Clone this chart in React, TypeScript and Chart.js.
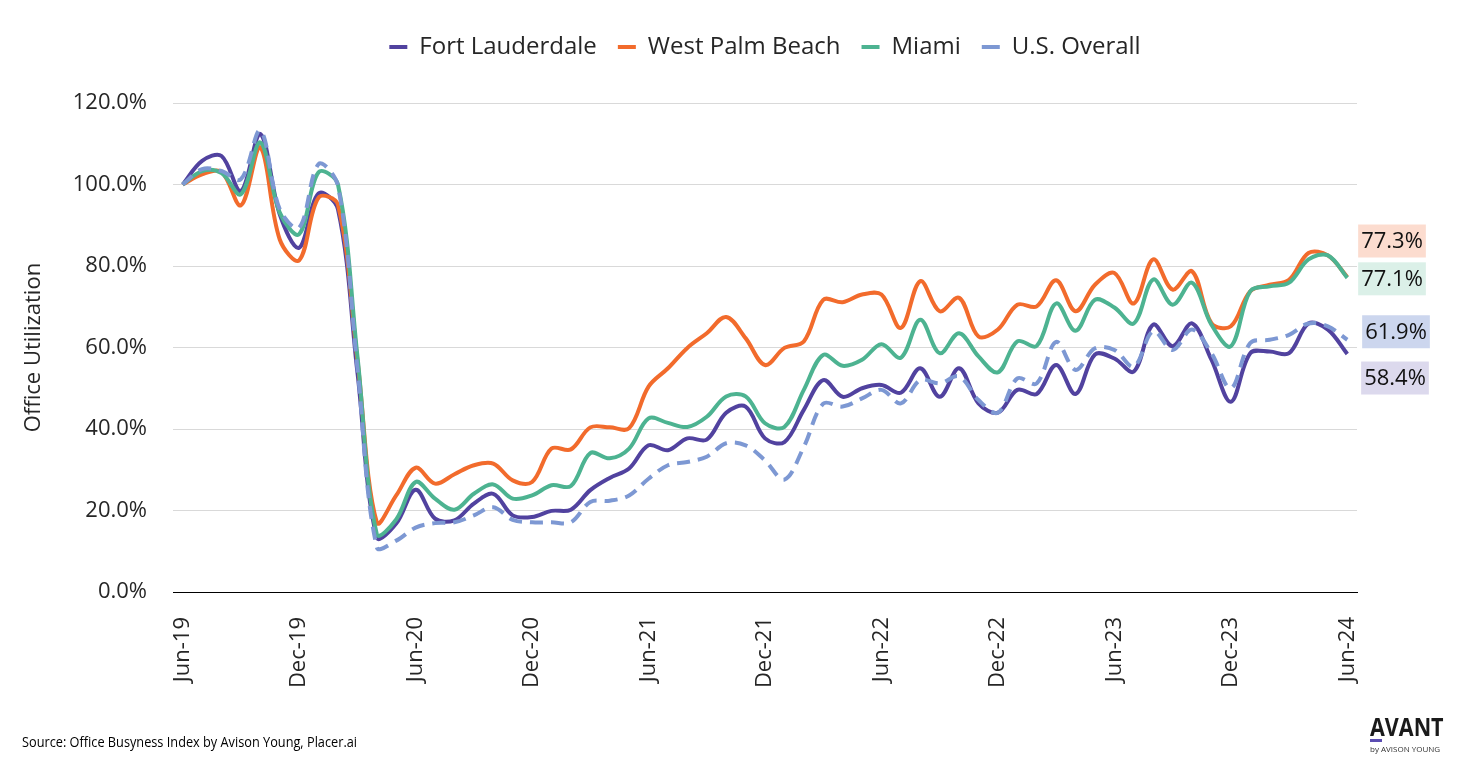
import React, { useEffect, useRef } from 'react';
import { Chart, registerables } from 'chart.js';

Chart.register(...registerables);

const months = [
  'Jun-19', 'Jul-19', 'Aug-19', 'Sep-19', 'Oct-19', 'Nov-19', 'Dec-19',
  'Jan-20', 'Feb-20', 'Mar-20', 'Apr-20', 'May-20', 'Jun-20', 'Jul-20', 'Aug-20', 'Sep-20', 'Oct-20', 'Nov-20', 'Dec-20',
  'Jan-21', 'Feb-21', 'Mar-21', 'Apr-21', 'May-21', 'Jun-21', 'Jul-21', 'Aug-21', 'Sep-21', 'Oct-21', 'Nov-21', 'Dec-21',
  'Jan-22', 'Feb-22', 'Mar-22', 'Apr-22', 'May-22', 'Jun-22', 'Jul-22', 'Aug-22', 'Sep-22', 'Oct-22', 'Nov-22', 'Dec-22',
  'Jan-23', 'Feb-23', 'Mar-23', 'Apr-23', 'May-23', 'Jun-23', 'Jul-23', 'Aug-23', 'Sep-23', 'Oct-23', 'Nov-23', 'Dec-23',
  'Jan-24', 'Feb-24', 'Mar-24', 'Apr-24', 'May-24', 'Jun-24',
];

const fortLauderdale = [
  100, 105.8, 107, 98.4, 112.4, 92.7, 84.5, 97.8, 93.9, 54,
  13.4, 16.8, 25.1, 18, 17.6, 21.7, 24.1, 18.8, 18.4, 19.9,
  20.2, 25, 28, 30.3, 36, 34.8, 37.7, 37.4, 44, 45.5,
  37.7, 36.8, 44.7, 52, 47.9, 50, 50.8, 48.9, 54.9, 47.9,
  54.9, 46.3, 44, 49.6, 48.6, 55.7, 48.6, 58.3, 57.3, 54.1,
  65.6, 60.3, 65.9, 57, 46.7, 58.6, 59, 58.6, 65.9, 64.4,
  58.4,
];

const westPalmBeach = [
  100, 102.5, 103.1, 94.9, 109.1, 86.5, 81.4, 96.8, 95, 57,
  17.1, 23.7, 30.5, 26.6, 28.9, 31.1, 31.5, 27.4, 27, 35.2,
  35, 40.4, 40.4, 40.2, 50.4, 54.9, 59.9, 63.5, 67.5, 62.3,
  55.7, 59.9, 61.5, 71.7, 71.1, 73, 73, 64.8, 76.3, 68.9,
  72.2, 62.7, 64.4, 70.5, 70.1, 76.5, 68.9, 75.4, 78.3, 70.8,
  81.6, 74.2, 78.7, 66, 65.2, 73.8, 75.4, 76.6, 83.2, 82.6,
  77.3,
];

const miami = [
  100, 103.3, 102.8, 97.6, 110.3, 93.1, 87.8, 103, 100, 58,
  14.2, 17.8, 27, 22.9, 20.2, 24.1, 26.4, 22.9, 23.7, 26.2,
  26, 34.1, 32.8, 35.2, 42.6, 41.5, 40.5, 43, 48, 48,
  41.4, 40.5, 49.6, 58.2, 55.5, 57, 60.8, 57.5, 66.8, 58.6,
  63.5, 57.8, 53.9, 61.5, 60.4, 70.8, 64.1, 71.7, 69.8, 65.9,
  76.7, 70.5, 75.9, 65.6, 60.3, 73.8, 75, 75.9, 81.6, 82.6,
  77.1,
];

const usOverall = [
  100, 103.8, 103.3, 101.3, 113.2, 93.9, 89.4, 105, 99.7, 55,
  11, 12.6, 15.8, 16.9, 17.1, 18.8, 20.8, 17.7, 17.1, 17.1,
  17.1, 22.1, 22.4, 23.7, 27.8, 31.1, 31.9, 33.2, 36.5, 36,
  32.3, 27.6, 35.6, 46.2, 45.5, 47.5, 49.6, 46.3, 52, 51.2,
  52.9, 47.1, 44, 52.4, 51.2, 61.4, 54.5, 59.8, 59.4, 55.3,
  64, 59.4, 64.4, 58.6, 50, 61.1, 61.9, 63.1, 65.9, 65.2,
  61.9,
];

const seriesNames = ['Fort Lauderdale', 'West Palm Beach', 'Miami', 'U.S. Overall'];
const seriesColors = ['#51429F', '#F26B2C', '#4DB391', '#7D98D3'];
const labelBackgrounds = ['#DCD9ED', '#FCDCCF', '#DBF0E8', '#CCD6EE'];
// label placement relative to the last point (pixels), to keep end labels apart
const labelShiftY = [24, -36, 1, -8];
const labelShiftX = [38, 35, 35, 39];

const FONT = '"Open Sans", "Noto Sans", sans-serif';
const TEXT = '#262626';

const endLabels = {
  id: 'endLabels',
  afterDatasetsDraw(chart: any) {
    const { ctx, chartArea } = chart;
    ctx.save();
    ctx.font = `22px ${FONT}`;
    chart.data.datasets.forEach((ds: any, i: number) => {
      const meta = chart.getDatasetMeta(i);
      const pt = meta.data[meta.data.length - 1];
      const value = ds.data[ds.data.length - 1];
      const text = value.toFixed(1) + '%';
      const cx = chartArea.right + labelShiftX[i];
      const cy = pt.y + labelShiftY[i];
      const w = ctx.measureText(text).width + 6;
      const h = 33;
      ctx.fillStyle = labelBackgrounds[i];
      ctx.fillRect(cx - w / 2, cy - h / 2, w, h);
      ctx.fillStyle = '#111';
      ctx.textAlign = 'center';
      ctx.textBaseline = 'middle';
      ctx.fillText(text, cx, cy + 1);
    });
    ctx.restore();
  },
};

export default function App() {
  const ref = useRef<HTMLCanvasElement>(null);

  useEffect(() => {
    if (!ref.current) return;
    const seriesData = [fortLauderdale, westPalmBeach, miami, usOverall];
    const chart = new Chart(ref.current, {
      type: 'line',
      data: {
        labels: months,
        datasets: seriesData.map((d, i) => ({
          label: seriesNames[i],
          data: d,
          borderColor: seriesColors[i],
          backgroundColor: seriesColors[i],
          borderWidth: 4,
          borderDash: i === 3 ? [13, 8] : [],
          pointRadius: 0,
          pointHoverRadius: 0,
          tension: 0.35,
          fill: false,
          order: 3 - i,
        })),
      },
      options: {
        responsive: false,
        animation: false,
        devicePixelRatio: 1,
        layout: { padding: { top: 14, right: 104, bottom: 0, left: 0 } },
        plugins: {
          legend: {
            display: true,
            position: 'top',
            fullSize: false,
            labels: {
              usePointStyle: true,
              pointStyle: 'line',
              pointStyleWidth: 18,
              padding: 21,
              color: TEXT,
              font: { family: FONT, size: 24 },
              sort: (a: any, b: any) => a.datasetIndex - b.datasetIndex,
            },
          },
          title: {
            display: true,
            text: '',
            position: 'top',
            weight: 500,
            padding: 0,
            font: { size: 34, lineHeight: 1 },
          } as any,
          tooltip: { enabled: false },
        },
        scales: {
          x: {
            type: 'category',
            offset: true,
            grid: { display: false },
            border: { display: true, color: '#000', width: 1 },
            ticks: {
              autoSkip: false,
              maxRotation: 90,
              minRotation: 90,
              padding: 17,
              color: TEXT,
              font: { family: FONT, size: 22 },
              callback: (_v: any, i: number) => (i % 6 === 0 ? months[i] : ''),
            },
            afterFit: (s: any) => {
              s.height = 171;
            },
          },
          y: {
            min: 0,
            max: 120,
            grid: {
              color: (c: any) => (c.tick && c.tick.value === 0 ? '#000' : '#D9D9D9'),
              drawTicks: false,
              lineWidth: 1,
            },
            border: { display: false },
            ticks: {
              stepSize: 20,
              padding: 26,
              color: TEXT,
              font: { family: FONT, size: 22 },
              callback: (v: any) => Number(v).toFixed(1) + '%',
            },
            title: {
              display: true,
              text: 'Office Utilization',
              color: TEXT,
              font: { family: FONT, size: 22 },
              padding: { top: 21, bottom: 0 },
            },
            afterFit: (s: any) => {
              s.width = 173;
            },
          },
        },
      } as any,
      plugins: [endLabels],
    });
    return () => chart.destroy();
  }, []);

  return (
    <div
      style={{
        position: 'fixed',
        left: 0,
        top: 0,
        width: 1461,
        height: 763,
        background: '#fff',
        overflow: 'hidden',
      }}
    >
      <canvas ref={ref} width={1461} height={763} style={{ position: 'absolute', left: 0, top: 0 }} />
      <div
        style={{
          position: 'absolute',
          left: 22,
          top: 733,
          fontFamily: FONT,
          fontSize: 14,
          lineHeight: '18px',
          color: '#000',
          whiteSpace: 'nowrap',
          transform: 'scaleX(0.91)',
          transformOrigin: 'left top',
        }}
      >
        Source: Office Busyness Index by Avison Young, Placer.ai
      </div>
      <div style={{ position: 'absolute', left: 1370, top: 712 }}>
        <div
          style={{
            fontFamily: FONT,
            fontWeight: 700,
            fontSize: 25,
            lineHeight: '28px',
            color: '#1a1a1a',
            whiteSpace: 'nowrap',
            transform: 'scaleX(0.86)',
            transformOrigin: 'left top',
          }}
        >
          AVANT
        </div>
        <div style={{ width: 12, height: 3, background: '#5B4DB2', marginTop: -1 }} />
        <div
          style={{
            fontFamily: FONT,
            fontSize: 8,
            lineHeight: '10px',
            color: '#333',
            whiteSpace: 'nowrap',
            marginTop: 2,
          }}
        >
          by AVISON YOUNG
        </div>
      </div>
    </div>
  );
}
